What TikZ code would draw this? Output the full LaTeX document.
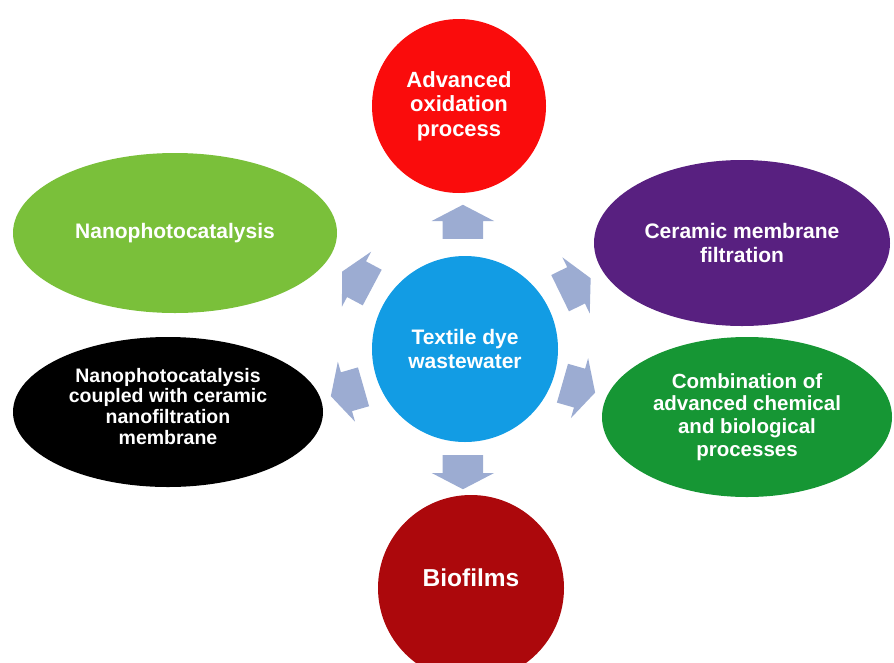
\documentclass[tikz,border=0pt]{standalone}
\usepackage{fontspec}
\setmainfont{Liberation Sans}
\usepackage{xcolor}
\usepackage{tikz}
\usetikzlibrary{positioning}
\usetikzlibrary{shapes.geometric,shapes.arrows}

\definecolor{dyeblue}{RGB}{18,156,228}
\definecolor{aopred}{RGB}{250,12,12}
\definecolor{biored}{RGB}{172,8,12}
\definecolor{npgreen}{RGB}{122,192,58}
\definecolor{cmpurple}{RGB}{88,32,128}
\definecolor{combgreen}{RGB}{22,150,52}
\definecolor{flowgray}{RGB}{156,172,210}

\begin{document}
\begin{tikzpicture}[x=1pt,y=1pt,
	blob/.style={draw=none,text=white,align=center,inner sep=0pt,
		font={\bfseries\fontsize{21}{24}\selectfont}},
	bubble/.style={blob,circle,minimum size=#1},
	oval/.style n args={2}{blob,ellipse,minimum width=#1,minimum height=#2},
	flow/.style={single arrow,fill=flowgray,draw=none,minimum height=34pt,
		inner xsep=0pt,inner ysep=20pt,single arrow head extend=11pt,
		single arrow tip angle=125,rotate=#1}]
	\useasboundingbox (0,0) rectangle (894,-662);
	
	\node[bubble=186pt,fill=dyeblue] (dye) at (465,-349) {Textile dye\\wastewater};
	
	\node[bubble=174pt,fill=aopred,font={\bfseries\fontsize{22}{24.5}\selectfont}] 
	(aop) at (459,-106) {Advanced\\oxidation\\process};
	\node[bubble=186pt,fill=biored,text depth=20pt,font={\bfseries\fontsize{24.5}{26}\selectfont}] 
	(bio) at (471,-588) {Biofilms};
	
	\node[oval={324pt}{160pt},fill=npgreen] (npc) at (175,-233) {Nanophotocatalysis};
	\node[oval={310pt}{150pt},fill=black,text depth=12pt,font={\bfseries\fontsize{19.5}{20.7}\selectfont}] 
	(npcm) at (168,-412) {Nanophotocatalysis\\coupled with ceramic\\nanofiltration\\membrane};
	\node[oval={296pt}{166pt},fill=cmpurple] (cmf) at (742,-243) {Ceramic membrane\\filtration};
	\node[oval={290pt}{160pt},fill=combgreen,font={\bfseries\fontsize{20.5}{22.7}\selectfont}] 
	(comb) at (747,-417) {Combination of\\advanced chemical\\and biological\\processes};
	
	\foreach \ang/\dist/\rot [count=\k] in {91/122/90,269/118/270,147/123/152,200/120/196,30/122/26,-19/115/-16}{
		\node[flow=\rot] (arr\k) at ([shift=(\ang:\dist)] dye.center) {};
	}
\end{tikzpicture}
\end{document}
